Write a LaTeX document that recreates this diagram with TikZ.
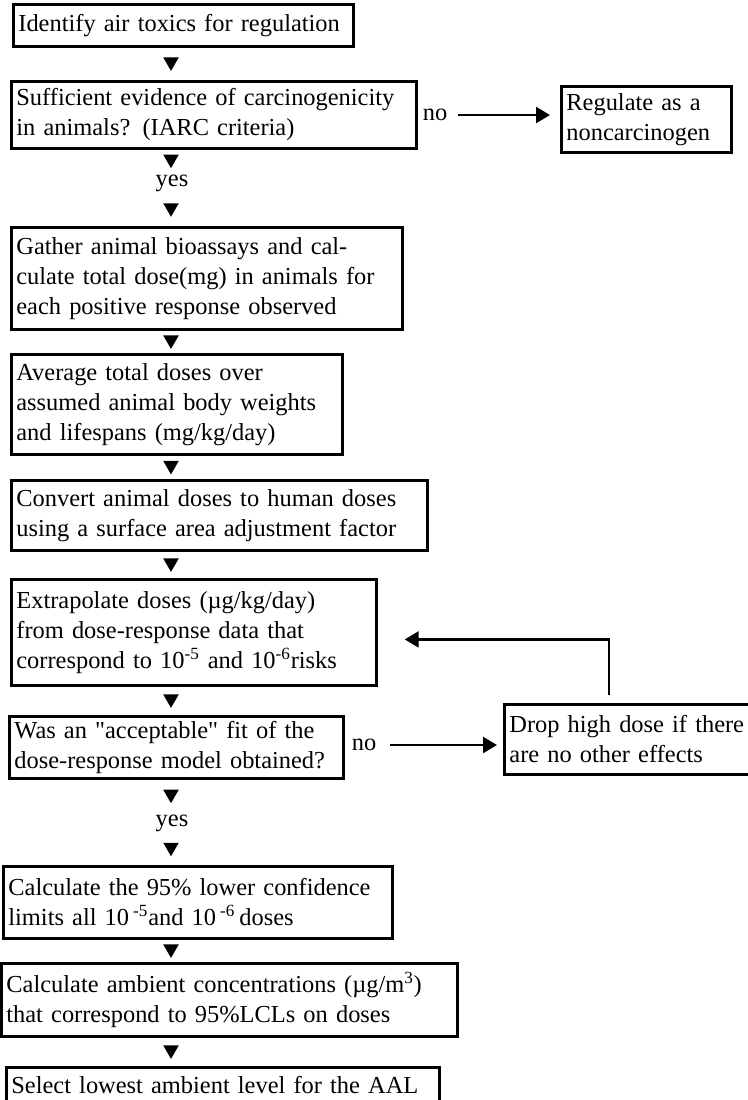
\documentclass[tikz,border=0pt]{standalone}
\usepackage{fontspec}
\setmainfont{Liberation Serif}[Ligatures=TeXOff]
\usetikzlibrary{arrows.meta,positioning,calc,shapes.geometric}
\tikzset{
    box/.style={draw,line width=1.6pt,anchor=north west,align=left,inner xsep=0.1cm,inner ysep=2pt},
    tri/.style={regular polygon,regular polygon sides=3,shape border rotate=180,fill,inner sep=0pt,minimum size=0.36cm,yshift=0.4mm},
    lbl/.style={inner sep=1pt},
    arrow/.style={-{Triangle[length=2.8mm,width=3.2mm]},line width=1.4pt}
}

\begin{document}
\begin{tikzpicture}[x=0.02cm,y=-0.02cm,every node/.style={font=\fontsize{13.9}{17.1}\selectfont}]
    \useasboundingbox (0,0) rectangle (748,1100);
    \coordinate (spine) at (171,0);
    % main column
    \node[box,text width=6.6cm,minimum height=0.84cm] (ident) at (12,3) {Identify air toxics for regulation};
    \node[box,text width=7.9cm,minimum height=1.34cm] (evid) at (10,80) {Sufficient evidence of carcinogenicity\\in animals? (IARC criteria)};
    \node[lbl] (yes1) at (172,183) {yes};
    \node[box,text width=7.62cm,minimum height=2.04cm] (gather) at (10,226) {Gather animal bioassays and cal-\\culate total dose(mg) in animals for\\each positive response observed};
    \node[box,text width=6.42cm,minimum height=2.0cm] (avg) at (10,353) {Average total doses over\\assumed animal body weights\\and lifespans (mg/kg/day)};
    \node[box,text width=8.12cm,minimum height=1.4cm] (conv) at (10,479) {Convert animal doses to human doses\\using a surface area adjustment factor};
    \node[box,text width=7.1cm,minimum height=2.12cm] (extra) at (10,578) {Extrapolate doses (µg/kg/day)\\from dose-response data that\\correspond to 10\textsuperscript{-5} and 10\textsuperscript{-6}risks};
    \node[box,text width=6.48cm,minimum height=1.24cm] (was) at (8,715) {Was an "acceptable" fit of the\\dose-response model obtained?};
    \node[lbl] (yes2) at (172,823) {yes};
    \node[box,text width=7.58cm,minimum height=1.44cm] (calc) at (2,865) {Calculate the 95\% lower confidence\\limits all 10\,\textsuperscript{-5}and 10\,\textsuperscript{-6}\,doses};
    \node[box,text width=8.92cm,minimum height=1.46cm] (amb) at (0,962) {Calculate ambient concentrations (µg/m\textsuperscript{3})\\that correspond to 95\%LCLs on doses};
    \node[box,text width=8.46cm,minimum height=0.72cm] (sel) at (5,1066) {Select lowest ambient level for the AAL};
    % side branches
    \node[lbl] (no1) at (435,115) {no};
    \node[box,text width=3.2cm,minimum height=1.32cm] (regul) at (560,85) {Regulate as a\\noncarcinogen};
    \node[lbl] (no2) at (364,745) {no};
    \node[box,text width=5.3cm,minimum height=1.4cm] (drop) at (503,703) {Drop high dose if there\\are no other effects};
    \coordinate (fb) at (609,703);

    \foreach \a/\b in {ident/evid,evid/yes1,yes1/gather,gather/avg,avg/conv,conv/extra,extra/was,was/yes2,yes2/calc,calc/amb,amb/sel}
        \path (\a.south -| spine) -- node[tri] {} (\b.north -| spine);

    \draw[arrow,shorten <=0.18cm,shorten >=0.2cm] (no1.east) -- (no1.east -| regul.west);
    \draw[arrow,shorten <=0.24cm,shorten >=0.12cm] (no2.east) -- (no2.east -| drop.west);
    \draw[arrow,shorten <=0.16cm,shorten >=0.54cm] (fb) |- ([yshift=-0.14cm]extra.east);
\end{tikzpicture}
\end{document}
